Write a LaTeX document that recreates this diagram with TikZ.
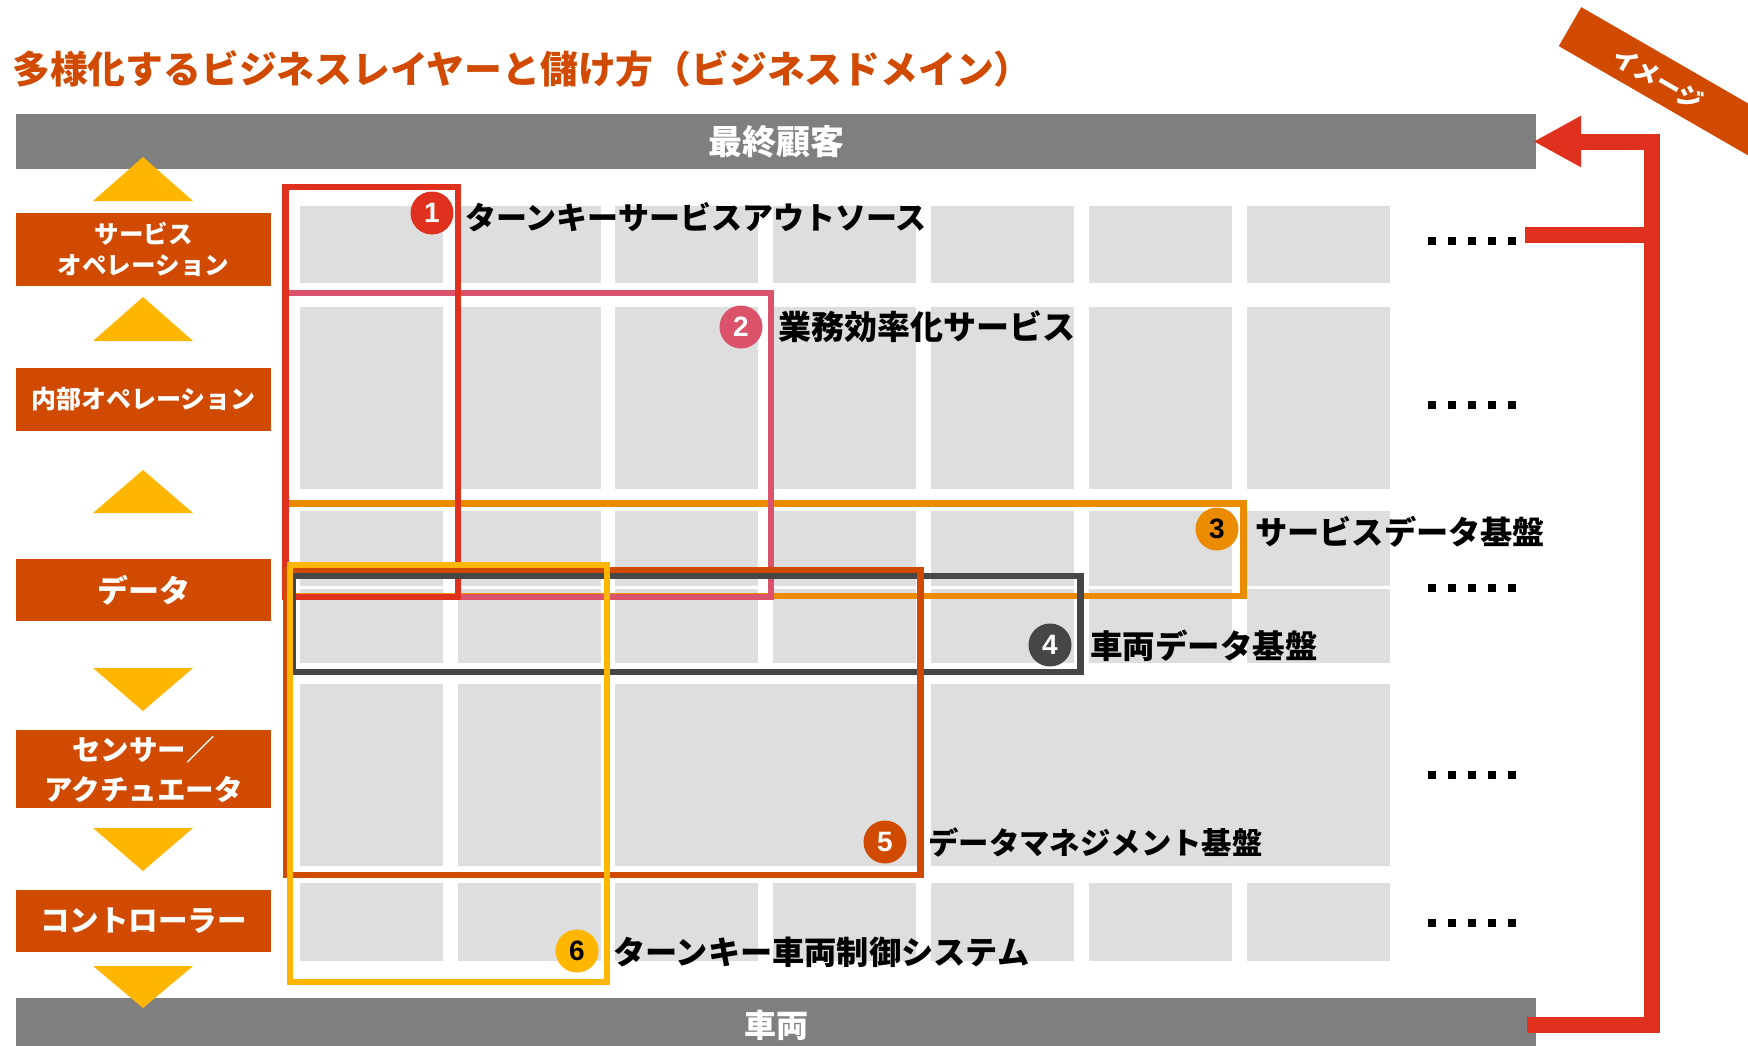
\documentclass[tikz,border=0pt]{standalone}
\usepackage{fontspec}
\setmainfont{Noto Sans CJK JP}
\newfontfamily\numfont{Liberation Sans}
\usetikzlibrary{arrows.meta}
\definecolor{pwcorange}{HTML}{D04A02}
\definecolor{pwcyellow}{HTML}{FFB600}
\definecolor{pwcred}{HTML}{E0301E}
\definecolor{pwcpink}{HTML}{DB536A}
\definecolor{pwctang}{HTML}{EB8C00}
\definecolor{dkgray}{HTML}{464646}
\definecolor{bargray}{HTML}{7F7F7F}
\definecolor{cellgray}{HTML}{DEDEDE}
\newcommand\dotrow{\rule{8pt}{8pt}\hspace{12pt}\rule{8pt}{8pt}\hspace{12pt}\rule{8pt}{8pt}\hspace{12pt}\rule{8pt}{8pt}\hspace{12pt}\rule{8pt}{8pt}}
\newcommand\fsz[1]{\bfseries\fontsize{#1}{#1}\selectfont}
\tikzset{
  cell/.style={fill=cellgray},
  bar/.style={fill=bargray, text=white, minimum width=1520, minimum height=55, inner sep=0},
  layerbox/.style={fill=pwcorange, text=white, minimum width=255, inner sep=0, align=center},
  tri/.style={fill=pwcyellow},
  frame/.style={draw, line width=6.5},
  num/.style={circle, minimum size=43, inner sep=0, font=\numfont\bfseries\fontsize{28}{28}\selectfont},
  lbl/.style={anchor=west, inner sep=0},
  dots/.style={inner sep=0},
  redline/.style={draw=pwcred, line width=16},
}
\begin{document}
\begin{tikzpicture}[x=1pt, y=-1pt]
\useasboundingbox (0,0) rectangle (1748,1045);
\clip (0,0) rectangle (1748,1045);

% grid cells
\foreach \cx in {300,458,615,773,931,1089,1247} {
  \fill[cell] (\cx,206) rectangle ++(143,77);
  \fill[cell] (\cx,307) rectangle ++(143,182);
  \fill[cell] (\cx,511) rectangle ++(143,75);
  \fill[cell] (\cx,589) rectangle ++(143,74);
  \fill[cell] (\cx,883) rectangle ++(143,78);
}
\fill[cell] (300,684) rectangle (443,866);
\fill[cell] (458,684) rectangle (601,866);
\fill[cell] (615,684) rectangle (917,866);
\fill[cell] (931,684) rectangle (1390,866);

% title
\node[anchor=west, inner sep=0, text=pwcorange, font=\fsz{37.8}] (title) at (12,68.5) {多様化するビジネスレイヤーと儲け方（ビジネスドメイン）};

% bars
\node[bar, font=\fsz{34}] (topbar) at (776,141.5) {最終顧客};
\node[bar, font=\fsz{32}] (botbar) at (776,1025) {車両};

% left layer boxes
\node[layerbox, minimum height=73, font=\bfseries\fontsize{24.5}{31}\selectfont] (svc) at (143.5,249.5) {サービス\\オペレーション};
\node[layerbox, minimum height=63, font=\fsz{25}] (inner) at (143.5,399.5) {内部オペレーション};
\node[layerbox, minimum height=62, font=\fsz{31}] (data) at (143.5,590) {データ};
\node[layerbox, minimum height=78, font=\bfseries\fontsize{28.5}{40}\selectfont] (sensor) at (143.5,769) {センサー／\\アクチュエータ};
\node[layerbox, minimum height=62, font=\fsz{29.5}] (ctrl) at (143.5,921) {コントローラー};

% triangles
\fill[tri] (93,201) -- (143,157) -- (193,201) -- cycle;
\fill[tri] (93,341) -- (143,297) -- (193,341) -- cycle;
\fill[tri] (93,513) -- (143,470) -- (193,513) -- cycle;
\fill[tri] (93,668) -- (143,711) -- (193,668) -- cycle;
\fill[tri] (93,828) -- (143,871) -- (193,828) -- cycle;
\fill[tri] (93,966) -- (143,1008) -- (193,966) -- cycle;

% frames
\draw[frame, pwctang] (285.5,503.5) rectangle (1243.5,596);
\draw[frame, pwcpink] (285.5,293) rectangle (771,597);
\draw[frame, pwcred] (285.5,187) rectangle (458,597);
\draw[frame, dkgray] (293,576) rectangle (1080.5,672);
\draw[frame, pwcorange] (286,570) rectangle (920.5,875);
\draw[frame, pwcyellow] (290,565) rectangle (607,982);

% numbered circles and labels
\node[num, fill=pwcred, text=white] (n1) at (432,213) {1};
\node[lbl, font=\fsz{31}] (l1) at (465,217) {ターンキーサービスアウトソース};
\node[num, fill=pwcpink, text=white] (n2) at (741,327) {2};
\node[lbl, font=\fsz{33}] (l2) at (778,327) {業務効率化サービス};
\node[num, fill=pwctang, text=black] (n3) at (1217,529) {3};
\node[lbl, font=\fsz{32.2}] (l3) at (1255,532) {サービスデータ基盤};
\node[num, fill=dkgray, text=white] (n4) at (1050,645) {4};
\node[lbl, font=\fsz{32.5}] (l4) at (1090,646) {車両データ基盤};
\node[num, fill=pwcorange, text=white] (n5) at (885,842) {5};
\node[lbl, font=\fsz{30.4}] (l5) at (928,842) {データマネジメント基盤};
\node[num, fill=pwcyellow, text=black] (n6) at (577,951) {6};
\node[lbl, font=\fsz{32.2}] (l6) at (613,952) {ターンキー車両制御システム};

% dots
\node[dots] (d1) at (1472,241) {\dotrow};
\node[dots] (d2) at (1472,405) {\dotrow};
\node[dots] (d3) at (1472,587.5) {\dotrow};
\node[dots] (d4) at (1472,774.5) {\dotrow};
\node[dots] (d5) at (1472,922.5) {\dotrow};

% red feedback arrow
\coordinate (railT) at (1652,141.5);
\coordinate (railB) at (1652,1025);
\coordinate (br) at (1525,234.5);
\draw[redline, -{Triangle[length=48pt,width=48pt]}] ([xshift=-9pt]botbar.east) -- (railB) -- (railT) -- ([xshift=-3pt]topbar.east);
\draw[redline] (br) -- (br -| railT);

% image banner
\fill[pwcorange, rotate around={-30:(1570,26.6)}] (1570,4.1) rectangle (1900,49.1);
\node[rotate=-30, text=white, inner sep=0, font=\fsz{25}] (img) at (1658,79) {イメージ};
\end{tikzpicture}
\end{document}
